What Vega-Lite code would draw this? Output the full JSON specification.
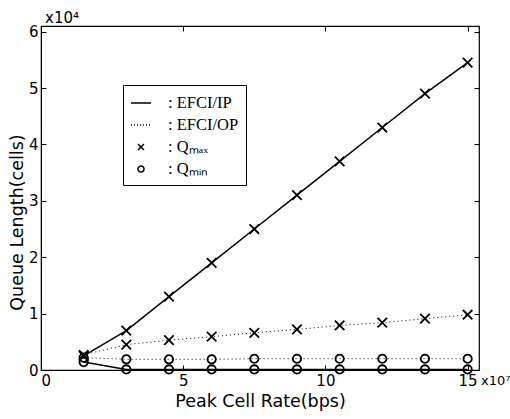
{
  "$schema": "https://vega.github.io/schema/vega-lite/v6.json",
  "width": 438,
  "height": 344,
  "autosize": "none",
  "padding": {"left": 41, "top": 26, "right": 31, "bottom": 49},
  "background": "white",
  "config": {
    "view": {"stroke": "black", "strokeWidth": 1.2},
    "axis": {
      "grid": false,
      "domainColor": "black",
      "tickColor": "black",
      "labelColor": "black",
      "titleColor": "black",
      "labelFont": "DejaVu Sans",
      "titleFont": "DejaVu Sans",
      "labelFontSize": 15,
      "titleFontSize": 17.5,
      "titleFontWeight": "normal",
      "tickSize": -5,
      "labelPadding": 8
    }
  },
  "resolve": {"axis": {"x": "independent", "y": "independent"}},
  "datasets": {
    "main": [
      {"rate": 1.5, "queue": 0.25, "scheme": "EFCI/IP", "q": "Qmax"},
      {"rate": 3, "queue": 0.7, "scheme": "EFCI/IP", "q": "Qmax"},
      {"rate": 4.5, "queue": 1.3, "scheme": "EFCI/IP", "q": "Qmax"},
      {"rate": 6, "queue": 1.9, "scheme": "EFCI/IP", "q": "Qmax"},
      {"rate": 7.5, "queue": 2.5, "scheme": "EFCI/IP", "q": "Qmax"},
      {"rate": 9, "queue": 3.1, "scheme": "EFCI/IP", "q": "Qmax"},
      {"rate": 10.5, "queue": 3.7, "scheme": "EFCI/IP", "q": "Qmax"},
      {"rate": 12, "queue": 4.3, "scheme": "EFCI/IP", "q": "Qmax"},
      {"rate": 13.5, "queue": 4.9, "scheme": "EFCI/IP", "q": "Qmax"},
      {"rate": 15, "queue": 5.45, "scheme": "EFCI/IP", "q": "Qmax"},
      {"rate": 1.5, "queue": 0.14, "scheme": "EFCI/IP", "q": "Qmin"},
      {"rate": 3, "queue": 0.01, "scheme": "EFCI/IP", "q": "Qmin"},
      {"rate": 4.5, "queue": 0.01, "scheme": "EFCI/IP", "q": "Qmin"},
      {"rate": 6, "queue": 0.01, "scheme": "EFCI/IP", "q": "Qmin"},
      {"rate": 7.5, "queue": 0.01, "scheme": "EFCI/IP", "q": "Qmin"},
      {"rate": 9, "queue": 0.01, "scheme": "EFCI/IP", "q": "Qmin"},
      {"rate": 10.5, "queue": 0.01, "scheme": "EFCI/IP", "q": "Qmin"},
      {"rate": 12, "queue": 0.01, "scheme": "EFCI/IP", "q": "Qmin"},
      {"rate": 13.5, "queue": 0.01, "scheme": "EFCI/IP", "q": "Qmin"},
      {"rate": 15, "queue": 0.01, "scheme": "EFCI/IP", "q": "Qmin"},
      {"rate": 1.5, "queue": 0.27, "scheme": "EFCI/OP", "q": "Qmax"},
      {"rate": 3, "queue": 0.45, "scheme": "EFCI/OP", "q": "Qmax"},
      {"rate": 4.5, "queue": 0.53, "scheme": "EFCI/OP", "q": "Qmax"},
      {"rate": 6, "queue": 0.59, "scheme": "EFCI/OP", "q": "Qmax"},
      {"rate": 7.5, "queue": 0.66, "scheme": "EFCI/OP", "q": "Qmax"},
      {"rate": 9, "queue": 0.72, "scheme": "EFCI/OP", "q": "Qmax"},
      {"rate": 10.5, "queue": 0.79, "scheme": "EFCI/OP", "q": "Qmax"},
      {"rate": 12, "queue": 0.84, "scheme": "EFCI/OP", "q": "Qmax"},
      {"rate": 13.5, "queue": 0.91, "scheme": "EFCI/OP", "q": "Qmax"},
      {"rate": 15, "queue": 0.98, "scheme": "EFCI/OP", "q": "Qmax"},
      {"rate": 1.5, "queue": 0.22, "scheme": "EFCI/OP", "q": "Qmin"},
      {"rate": 3, "queue": 0.19, "scheme": "EFCI/OP", "q": "Qmin"},
      {"rate": 4.5, "queue": 0.19, "scheme": "EFCI/OP", "q": "Qmin"},
      {"rate": 6, "queue": 0.19, "scheme": "EFCI/OP", "q": "Qmin"},
      {"rate": 7.5, "queue": 0.2, "scheme": "EFCI/OP", "q": "Qmin"},
      {"rate": 9, "queue": 0.2, "scheme": "EFCI/OP", "q": "Qmin"},
      {"rate": 10.5, "queue": 0.2, "scheme": "EFCI/OP", "q": "Qmin"},
      {"rate": 12, "queue": 0.2, "scheme": "EFCI/OP", "q": "Qmin"},
      {"rate": 13.5, "queue": 0.2, "scheme": "EFCI/OP", "q": "Qmin"},
      {"rate": 15, "queue": 0.2, "scheme": "EFCI/OP", "q": "Qmin"}
    ],
    "keys": [
      {"k": "EFCI/IP"},
      {"k": "EFCI/OP"},
      {"k": "Qₘₐₓ"},
      {"k": "Qₘᵢₙ"}
    ]
  },
  "layer": [
    {
      "data": {"name": "main"},
      "transform": [{"filter": "datum.scheme == 'EFCI/IP'"}],
      "mark": {"type": "line", "color": "black", "strokeWidth": 1.5},
      "encoding": {
        "x": {"field": "rate", "type": "quantitative", "scale": {"domain": [0, 15.4], "nice": false}, "axis": {"values": [0, 5, 10, 15], "title": "Peak Cell Rate(bps)", "titlePadding": 4}},
        "y": {"field": "queue", "type": "quantitative", "scale": {"domain": [0, 6.1], "nice": false}, "axis": {"values": [0, 1, 2, 3, 4, 5, 6], "format": "d", "title": "Queue Length(cells)", "titlePadding": 2, "titleY": 196}},
        "detail": {"field": "q"}
      }
    },
    {
      "data": {"name": "main"},
      "transform": [{"filter": "datum.scheme == 'EFCI/OP'"}],
      "mark": {"type": "line", "color": "black", "strokeWidth": 1, "strokeDash": [1, 3]},
      "encoding": {
        "x": {"field": "rate", "type": "quantitative", "axis": {"orient": "top", "values": [0, 5, 10, 15], "labels": false, "domain": false, "title": null}},
        "y": {"field": "queue", "type": "quantitative", "axis": {"orient": "right", "values": [0, 1, 2, 3, 4, 5, 6], "labels": false, "domain": false, "title": null}},
        "detail": {"field": "q"}
      }
    },
    {
      "data": {"name": "main"},
      "transform": [{"filter": "datum.q == 'Qmax'"}],
      "mark": {"type": "point", "shape": "M-1,-1L1,1M-1,1L1,-1", "filled": false, "color": "black", "strokeWidth": 1.8, "size": 90, "opacity": 1},
      "encoding": {
        "x": {"field": "rate", "type": "quantitative", "axis": null},
        "y": {"field": "queue", "type": "quantitative", "axis": null}
      }
    },
    {
      "data": {"name": "main"},
      "transform": [{"filter": "datum.q == 'Qmin'"}],
      "mark": {"type": "point", "shape": "circle", "filled": false, "color": "black", "strokeWidth": 1.8, "size": 70, "opacity": 1},
      "encoding": {
        "x": {"field": "rate", "type": "quantitative", "axis": null},
        "y": {"field": "queue", "type": "quantitative", "axis": null}
      }
    },
    {
      "data": {"name": "keys"},
      "mark": {"type": "point", "filled": false, "color": "black", "opacity": 0, "strokeWidth": 1.5},
      "encoding": {
        "shape": {
          "field": "k", "type": "nominal",
          "scale": {"domain": ["EFCI/IP", "EFCI/OP", "Qₘₐₓ", "Qₘᵢₙ"], "range": ["M-1,0L1,0", "M-1,0L1,0", "M-0.3,-0.3L0.3,0.3M-0.3,0.3L0.3,-0.3", "M0.3,0A0.3,0.3 0 1,1 -0.3,0A0.3,0.3 0 1,1 0.3,0"]},
          "legend": {"title": null, "orient": "none", "legendX": 82, "legendY": 59, "padding": 7, "strokeColor": "black", "fillColor": "white", "symbolSize": 400, "symbolOpacity": 1, "symbolStrokeColor": "black", "symbolStrokeWidth": 1.5, "labelFont": "Liberation Serif", "labelFontSize": 16.5, "labelColor": "black", "labelOffset": 16, "rowPadding": 2, "labelExpr": "': ' + datum.label"}
        },
        "strokeDash": {
          "field": "k", "type": "nominal",
          "scale": {"domain": ["EFCI/IP", "EFCI/OP", "Qₘₐₓ", "Qₘᵢₙ"], "range": [[1, 0], [1, 2], [1, 0], [1, 0]]},
          "legend": {"title": null, "orient": "none", "legendX": 82, "legendY": 59, "padding": 7, "strokeColor": "black", "fillColor": "white", "symbolSize": 400, "symbolOpacity": 1, "symbolStrokeColor": "black", "symbolStrokeWidth": 1.5, "labelFont": "Liberation Serif", "labelFontSize": 16.5, "labelColor": "black", "labelOffset": 16, "rowPadding": 2, "labelExpr": "': ' + datum.label"}
        }
      }
    },
    {
      "data": {"values": [{}]},
      "mark": {"type": "text", "text": "x10⁴", "font": "DejaVu Sans", "fontSize": 15, "align": "left", "baseline": "alphabetic", "dx": 4, "dy": -3, "color": "black"},
      "encoding": {"x": {"datum": 0, "axis": null}, "y": {"datum": 6.1, "axis": null}}
    },
    {
      "data": {"values": [{}]},
      "mark": {"type": "text", "text": "x10⁷", "font": "DejaVu Sans", "fontSize": 13, "align": "left", "baseline": "alphabetic", "dx": 2, "dy": 15, "color": "black"},
      "encoding": {"x": {"datum": 15.4, "axis": null}, "y": {"datum": 0, "axis": null}}
    }
  ]
}
